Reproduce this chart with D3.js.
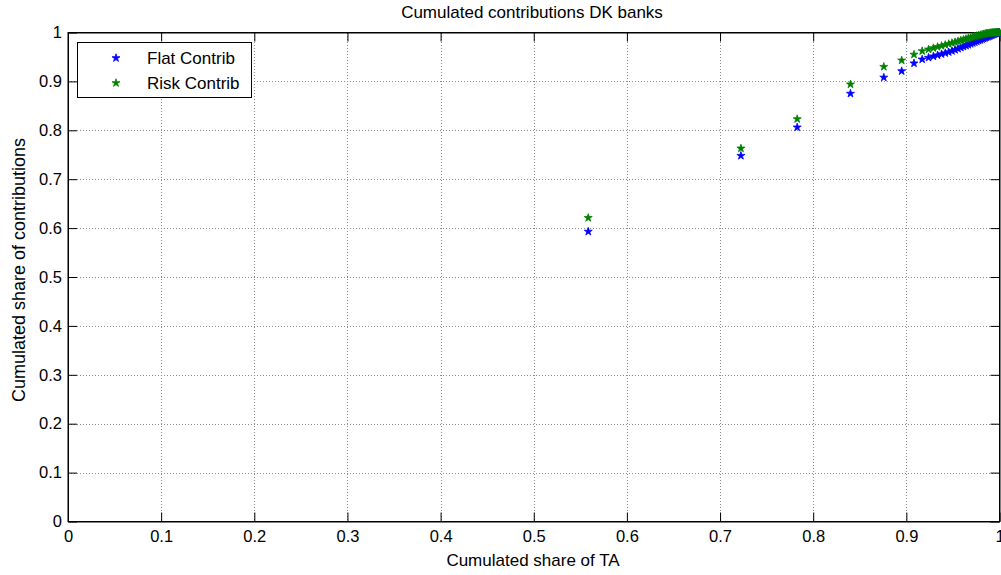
<!DOCTYPE html>
<html>
<head>
<meta charset="utf-8">
<script src="https://cdn.jsdelivr.net/npm/d3@7"></script>
<style>
  html, body { margin: 0; padding: 0; background: #fff; }
  svg text { font-family: "Liberation Sans", Arial, sans-serif; fill: #000; }
</style>
</head>
<body>
<svg id="chart" width="1001" height="575"></svg>
<script>
// Cumulated share of total assets (x) for each bank
const shareTA = [
  0.5585, 0.7224, 0.7828, 0.8400, 0.8758, 0.8950, 0.9082, 0.9170,
  0.9238, 0.9290, 0.9335, 0.9378, 0.9418, 0.9455, 0.9490, 0.9523,
  0.9555, 0.9585, 0.9613, 0.9640, 0.9665, 0.9690, 0.9713, 0.9735,
  0.9756, 0.9776, 0.9795, 0.9813, 0.9830, 0.9846, 0.9861, 0.9875,
  0.9888, 0.9900, 0.9911, 0.9922, 0.9932, 0.9941, 0.9950, 0.9958,
  0.9966, 0.9973, 0.9980, 0.9986, 0.9992, 1.0000
];
// Cumulated share of contributions, flat-rate scheme
const flatContrib = [
  0.593, 0.748, 0.806, 0.875, 0.908, 0.921, 0.937, 0.945,
  0.9486, 0.9512, 0.9535, 0.9557, 0.9578, 0.9598, 0.9622, 0.9646,
  0.9669, 0.9691, 0.9711, 0.9731, 0.9749, 0.9768, 0.9785, 0.9802,
  0.9818, 0.9834, 0.9849, 0.9863, 0.9877, 0.9890, 0.9902, 0.9913,
  0.9924, 0.9934, 0.9943, 0.9952, 0.9960, 0.9967, 0.9974, 0.9980,
  0.9985, 0.9989, 0.9993, 0.9996, 0.9998, 1.0000
];
// Cumulated share of contributions, risk-based scheme
const riskContrib = [
  0.621, 0.763, 0.823, 0.894, 0.930, 0.943, 0.955, 0.962,
  0.9655, 0.9682, 0.9705, 0.9727, 0.9748, 0.9767, 0.9786, 0.9804,
  0.9821, 0.9838, 0.9853, 0.9868, 0.9882, 0.9896, 0.9908, 0.9919,
  0.9930, 0.9941, 0.9950, 0.9959, 0.9967, 0.9975, 0.9980, 0.9984,
  0.9987, 0.9990, 0.9992, 0.9994, 0.9995, 0.9996, 0.9997, 0.9998,
  0.9998, 0.9999, 0.9999, 1.0000, 1.0000, 1.0000
];
const seriesNames = ["Flat Contrib", "Risk Contrib"];
const seriesColors = ["#0000ff", "#008000"];
const xTicks = [0, 0.1, 0.2, 0.3, 0.4, 0.5, 0.6, 0.7, 0.8, 0.9, 1];
const yTicks = [0, 0.1, 0.2, 0.3, 0.4, 0.5, 0.6, 0.7, 0.8, 0.9, 1];

const svg = d3.select("#chart");
const pLeft = 68, pRight = 999.5, pTop = 32.5, pBottom = 521.5;
const x = d3.scaleLinear().domain([0, 1]).range([pLeft, pRight]);
const y = d3.scaleLinear().domain([0, 1]).range([pBottom, pTop]);
const fmt = d => d3.format("~g")(d);
const tickLen = 9;
const tickFont = 16.5;
const labelFont = 17;

// dotted grid
const grid = svg.append("g").attr("stroke", "#8c8c8c").attr("stroke-width", 1)
  .attr("stroke-dasharray", "1,2").attr("shape-rendering", "crispEdges");
grid.selectAll("line.gx").data(xTicks.slice(1, -1)).enter().append("line")
  .attr("x1", d => Math.round(x(d)) + 0.5).attr("x2", d => Math.round(x(d)) + 0.5)
  .attr("y1", pTop).attr("y2", pBottom);
grid.selectAll("line.gy").data(yTicks.slice(1, -1)).enter().append("line")
  .attr("y1", d => Math.round(y(d)) + 0.5).attr("y2", d => Math.round(y(d)) + 0.5)
  .attr("x1", pLeft).attr("x2", pRight);

// axes with inward ticks on all four sides
const axB = svg.append("g").attr("transform", `translate(0,${pBottom})`)
  .call(d3.axisBottom(x).tickValues(xTicks).tickFormat(fmt).tickSizeInner(-tickLen).tickSizeOuter(0).tickPadding(11));
const axT = svg.append("g").attr("transform", `translate(0,${pTop})`)
  .call(d3.axisTop(x).tickValues(xTicks).tickFormat("").tickSizeInner(-tickLen).tickSizeOuter(0));
const axL = svg.append("g").attr("transform", `translate(${pLeft},0)`)
  .call(d3.axisLeft(y).tickValues(yTicks).tickFormat(fmt).tickSizeInner(-tickLen).tickSizeOuter(0).tickPadding(6));
const axR = svg.append("g").attr("transform", `translate(${pRight},0)`)
  .call(d3.axisRight(y).tickValues(yTicks).tickFormat("").tickSizeInner(-tickLen).tickSizeOuter(0));
[axB, axT, axL, axR].forEach(g => {
  g.select(".domain").attr("stroke", "#000").attr("stroke-width", 1);
  g.selectAll(".tick line").attr("stroke", "#000");
  g.selectAll("text").attr("font-size", tickFont).attr("font-family", "Liberation Sans, Arial, sans-serif").attr("fill", "#000");
});
axB.selectAll(".tick text").attr("dy", "0.6em");

// plot frame
svg.append("rect").attr("x", pLeft).attr("y", pTop).attr("width", pRight - pLeft).attr("height", pBottom - pTop)
  .attr("fill", "none").attr("stroke", "#000").attr("stroke-width", 1);

// markers
const star = d3.symbol().type(d3.symbolStar).size(20);
const series = [flatContrib, riskContrib];
series.forEach((vals, si) => {
  svg.append("g").selectAll("path").data(shareTA.map((t, i) => [t, vals[i]])).enter().append("path")
    .attr("d", star)
    .attr("transform", d => `translate(${x(d[0])},${y(d[1])})`)
    .attr("fill", seriesColors[si]).attr("stroke", seriesColors[si]).attr("stroke-width", 0.8);
});

// title and axis labels
svg.append("text").attr("x", 532).attr("y", 18).attr("text-anchor", "middle")
  .attr("font-size", 17).text("Cumulated contributions DK banks");
svg.append("text").attr("x", 533).attr("y", 566).attr("text-anchor", "middle")
  .attr("font-size", labelFont).text("Cumulated share of TA");
svg.append("text").attr("transform", `translate(25,270) rotate(-90)`).attr("text-anchor", "middle")
  .attr("font-size", 18).text("Cumulated share of contributions");

// legend
const lg = svg.append("g");
lg.append("rect").attr("x", 77.5).attr("y", 42.5).attr("width", 174).attr("height", 55)
  .attr("fill", "#fff").attr("stroke", "#000").attr("stroke-width", 1);
seriesNames.forEach((name, i) => {
  const ly = 58 + i * 25;
  lg.append("path").attr("d", star).attr("transform", `translate(116,${ly})`)
    .attr("fill", seriesColors[i]).attr("stroke", seriesColors[i]).attr("stroke-width", 0.8);
  lg.append("text").attr("x", 147).attr("y", ly).attr("dy", "0.36em").attr("font-size", labelFont).text(name);
});
</script>
</body>
</html>
